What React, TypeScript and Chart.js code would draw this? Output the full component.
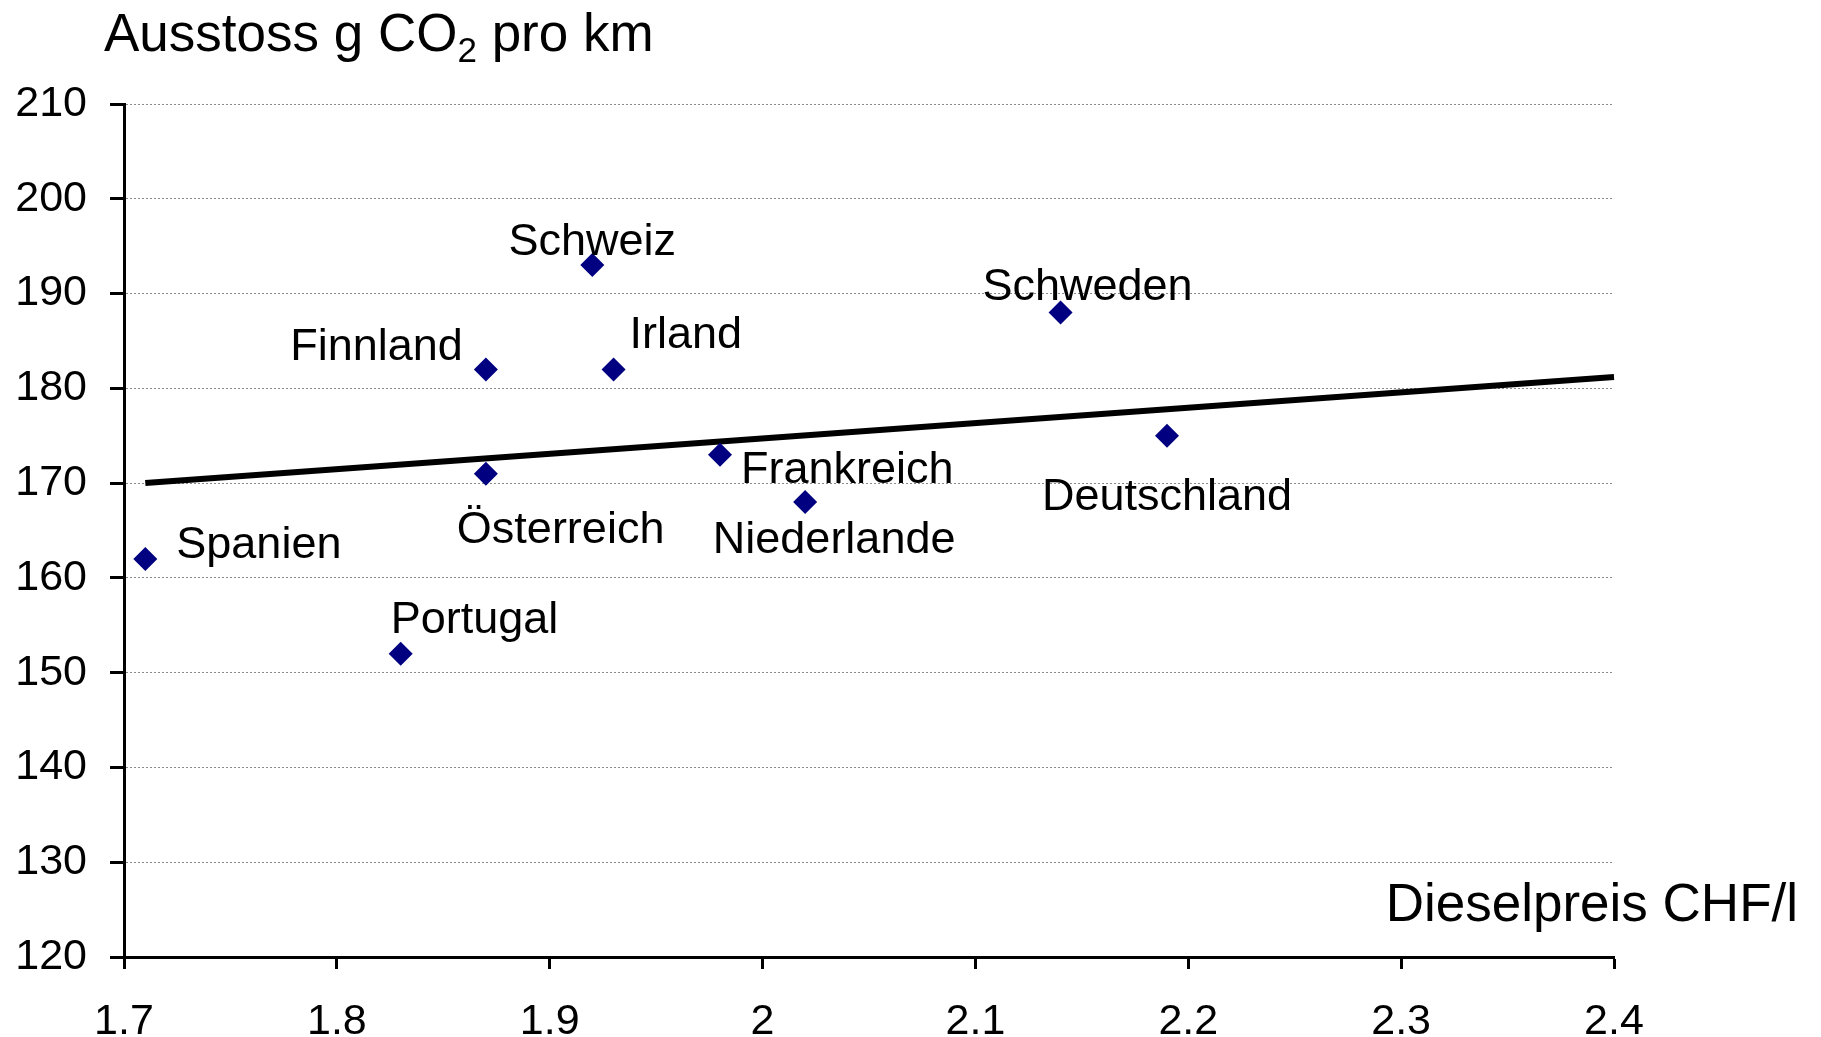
import React, { useEffect, useRef } from 'react';
import { Chart, registerables } from 'chart.js';

Chart.register(...registerables);

// ---- data ----
const countries = ['Spanien', 'Portugal', 'Finnland', 'Österreich', 'Schweiz', 'Irland', 'Frankreich', 'Niederlande', 'Schweden', 'Deutschland'];
const dieselPrice = [1.71, 1.83, 1.87, 1.87, 1.92, 1.93, 1.98, 2.02, 2.14, 2.19];
const co2Emission = [162, 152, 182, 171, 193, 182, 173, 168, 188, 175];
const trendX = [1.71, 2.4];
const trendY = [170.0, 181.2];
const xTickValues = [1.7, 1.8, 1.9, 2.0, 2.1, 2.2, 2.3, 2.4];
const yTickValues = [120, 130, 140, 150, 160, 170, 180, 190, 200, 210];
const titleMain = 'Ausstoss g CO';
const titleSub = '2';
const titleRest = ' pro km';
const xAxisTitle = 'Dieselpreis CHF/l';

// ---- label layout (styling, not data) ----
const labelPlacement: { align: CanvasTextAlign; dx: number; dy: number }[] = [
  { align: 'left', dx: 31, dy: -1 },
  { align: 'left', dx: -10, dy: -21 },
  { align: 'right', dx: -23, dy: -9 },
  { align: 'left', dx: -29, dy: 69 },
  { align: 'center', dx: 0, dy: -10 },
  { align: 'left', dx: 16, dy: -21 },
  { align: 'left', dx: 21, dy: 28 },
  { align: 'center', dx: 29, dy: 51 },
  { align: 'center', dx: 27, dy: -13 },
  { align: 'center', dx: 0, dy: 74 },
];

const FONT = '"Liberation Sans", Arial, sans-serif';

const textPlugin = {
  id: 'textPlugin',
  afterDraw(chart: any) {
    const ctx = chart.ctx as CanvasRenderingContext2D;
    const meta = chart.getDatasetMeta(0);
    ctx.save();
    ctx.fillStyle = '#000';
    ctx.textBaseline = 'alphabetic';
    ctx.font = `45px ${FONT}`;
    meta.data.forEach((pt: any, i: number) => {
      const p = labelPlacement[i];
      ctx.textAlign = p.align;
      ctx.fillText(countries[i], pt.x + p.dx, pt.y + p.dy);
    });
    // title with subscript
    ctx.textAlign = 'left';
    ctx.font = `53px ${FONT}`;
    let x = 104;
    const base = 51;
    ctx.fillText(titleMain, x, base);
    x += ctx.measureText(titleMain).width;
    ctx.font = `35px ${FONT}`;
    ctx.fillText(titleSub, x, base + 11);
    x += ctx.measureText(titleSub).width;
    ctx.font = `53px ${FONT}`;
    ctx.fillText(titleRest, x, base);
    // x axis title
    ctx.textAlign = 'right';
    ctx.font = `53px ${FONT}`;
    ctx.fillText(xAxisTitle, 1798, 921);
    ctx.restore();
  },
};

export default function App() {
  const ref = useRef<HTMLCanvasElement>(null);
  useEffect(() => {
    document.body.style.margin = '0';
    const canvas = ref.current!;
    const chart = new Chart(canvas, {
      type: 'scatter',
      data: {
        datasets: [
          {
            label: 'Länder',
            data: dieselPrice.map((v, i) => ({ x: v, y: co2Emission[i] })),
            pointStyle: 'rectRot',
            pointRadius: 12,
            pointHoverRadius: 12,
            backgroundColor: '#000080',
            borderColor: '#000080',
            borderWidth: 0,
          },
          {
            type: 'line',
            label: 'Trend',
            data: trendX.map((v, i) => ({ x: v, y: trendY[i] })),
            borderColor: '#000',
            borderWidth: 6,
            pointRadius: 0,
            showLine: true,
            fill: false,
            clip: 10,
          } as any,
        ],
      },
      options: {
        responsive: false,
        animation: false,
        maintainAspectRatio: false,
        layout: { padding: { top: 104, right: 207, left: 0, bottom: 0 } },
        plugins: { legend: { display: false }, tooltip: { enabled: false }, title: { display: false } },
        scales: {
          x: {
            type: 'linear',
            min: 1.7,
            max: 2.4,
            afterBuildTicks: (s: any) => { s.ticks = xTickValues.map((v) => ({ value: v })); },
            afterFit: (s: any) => { s.height = 80; },
            ticks: {
              font: { family: FONT, size: 43 },
              color: '#000',
              padding: 27,
              maxRotation: 0,
              autoSkip: false,
              callback: (v: any) => String(Number(Number(v).toFixed(1))),
            },
            grid: { drawOnChartArea: false, drawTicks: true, tickLength: 12, tickWidth: 3, tickColor: '#000' },
            border: { display: true, color: '#000', width: 3 },
          },
          y: {
            type: 'linear',
            min: 120,
            max: 210,
            afterBuildTicks: (s: any) => { s.ticks = yTickValues.map((v) => ({ value: v })); },
            afterFit: (s: any) => { s.width = 124; },
            ticks: {
              font: { family: FONT, size: 43 },
              color: '#000',
              padding: 23,
              autoSkip: false,
            },
            grid: {
              color: (c: any) => (c.tick && c.tick.value === 120 ? 'rgba(0,0,0,0)' : '#8a8a8a'),
              lineWidth: 1,
              tickLength: 14,
              tickWidth: 3,
              tickColor: '#000',
              tickBorderDash: [],
            },
            border: { display: true, color: '#000', width: 3, dash: [2, 2] },
          },
        },
      },
      plugins: [textPlugin],
    });
    return () => chart.destroy();
  }, []);
  return (
    <div style={{ width: 1821, height: 1037, background: '#fff' }}>
      <canvas ref={ref} width={1821} height={1037} style={{ display: 'block' }} />
    </div>
  );
}
